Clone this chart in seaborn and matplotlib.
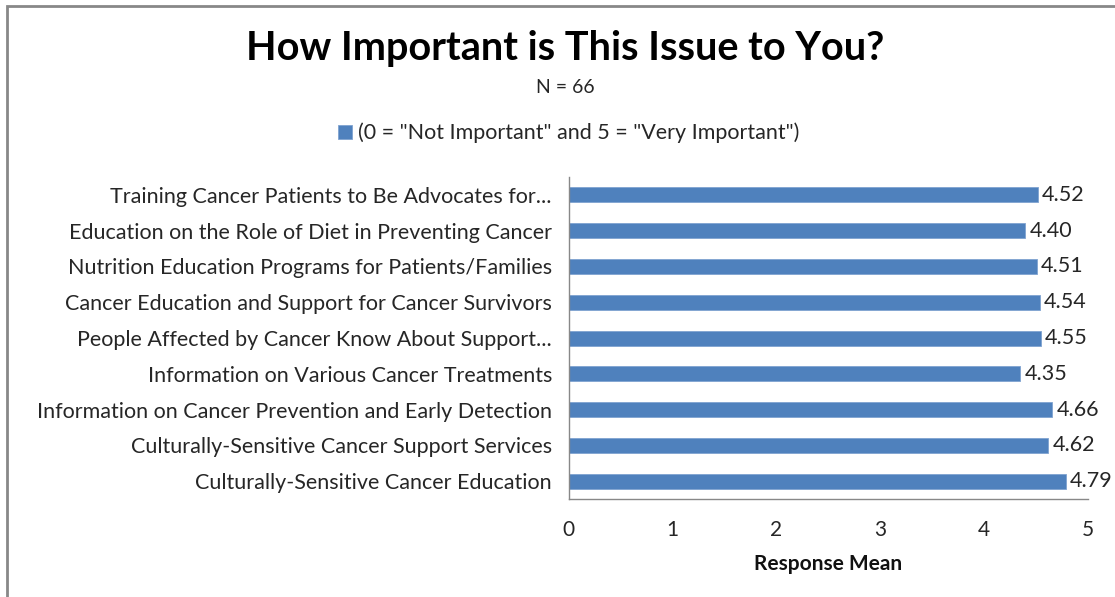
import matplotlib
matplotlib.use("Agg")
import matplotlib.pyplot as plt
import pandas as pd
import seaborn as sns
from matplotlib.patches import Rectangle

categories = [
    "Training Cancer Patients to Be Advocates for...",
    "Education on the Role of Diet in Preventing Cancer",
    "Nutrition Education Programs for Patients/Families",
    "Cancer Education and Support for Cancer Survivors",
    "People Affected by Cancer Know About Support...",
    "Information on Various Cancer Treatments",
    "Information on Cancer Prevention and Early Detection",
    "Culturally-Sensitive Cancer Support Services",
    "Culturally-Sensitive Cancer Education",
]
means = [4.52, 4.40, 4.51, 4.54, 4.55, 4.35, 4.66, 4.62, 4.79]
series_name = '(0 = "Not Important" and 5 = "Very Important")'
x_ticks = [0, 1, 2, 3, 4, 5]

sns.set_theme(style="white")
plt.rcParams["font.family"] = ["Lato", "DejaVu Sans"]

df = pd.DataFrame({"item": categories, "mean": means})

fig = plt.figure(figsize=(11.15, 5.97), dpi=100)
ax = fig.add_axes([0.510, 0.164, 0.4655, 0.5395])

sns.barplot(data=df, x="mean", y="item", orient="h", color="#4F81BD",
            width=0.42, saturation=1, label=series_name, ax=ax)
for p in ax.patches:
    p.set_edgecolor("#7FA3D0")
    p.set_linewidth(0.6)

ax.bar_label(ax.containers[0], fmt="%.2f", padding=3, fontsize=15.5, color="#262626")

ax.set_xlim(0, 5)
ax.set_ylim(8.5, -0.5)
ax.set_xticks(x_ticks)
ax.set_xticklabels([str(t) for t in x_ticks], fontsize=15, color="#262626")
ax.tick_params(axis="x", direction="out", length=6, width=1, color="#888888", pad=9)
ax.tick_params(axis="y", which="major", length=0, pad=12, labelsize=15.5, labelcolor="#262626")
ax.set_yticks([i + 0.5 for i in range(-1, 9)], minor=True)
ax.tick_params(axis="y", which="minor", direction="out", length=6, width=1, color="#888888")

for s in ["top", "right"]:
    ax.spines[s].set_visible(False)
for s in ["left", "bottom"]:
    ax.spines[s].set_color("#888888")
    ax.spines[s].set_linewidth(1)

ax.set_ylabel("")
ax.set_xlabel("Response Mean", fontsize=15, fontweight="bold", labelpad=10, color="#111111")

fig.text(0.507, 0.918, "How Important is This Issue to You?", ha="center", va="center",
         fontsize=28.5, fontweight="bold", color="#000000")
fig.text(0.507, 0.853, "N = 66", ha="center", va="center", fontsize=14, color="#262626")

ax.legend(loc="center", bbox_to_anchor=(0.510, 0.777), bbox_transform=fig.transFigure,
          frameon=False, fontsize=15.5, handlelength=0.65, handleheight=0.65,
          handletextpad=0.3, labelcolor="#262626")

fig.patches.append(Rectangle((7 / 1115, -0.05), 1.2, 1 - 6 / 597 + 0.05,
                             transform=fig.transFigure, fill=False,
                             edgecolor="#888888", linewidth=2))

fig.savefig("out.png", dpi=100)
